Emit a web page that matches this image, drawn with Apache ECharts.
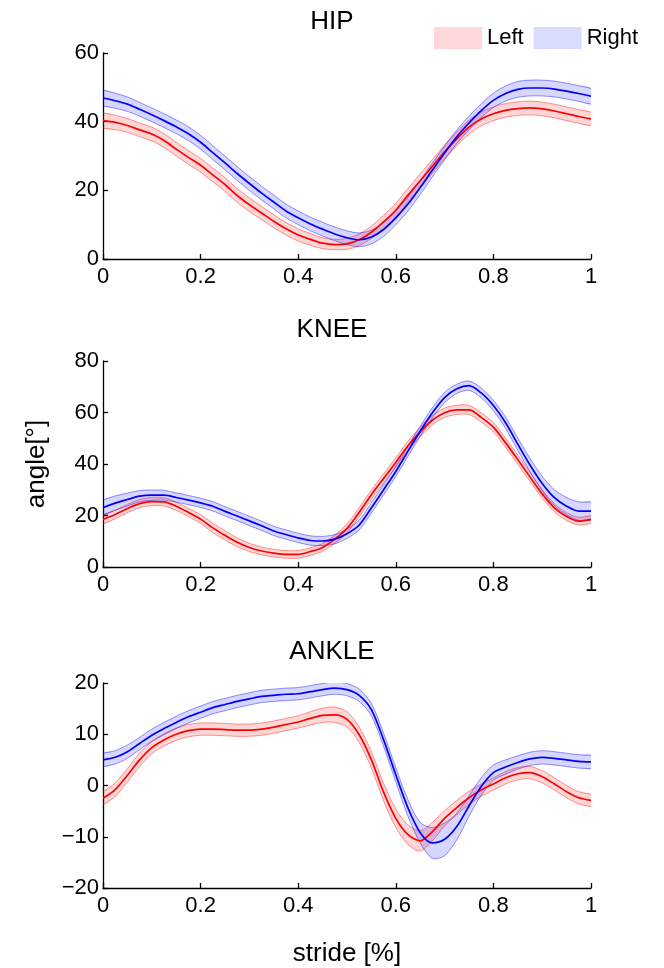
<!DOCTYPE html>
<html>
<head>
<meta charset="utf-8">
<script src="https://cdn.jsdelivr.net/npm/echarts@6.0.0/dist/echarts.min.js"></script>
<style>
  html, body { margin: 0; padding: 0; background: #fff; }
  #main { width: 664px; height: 968px; }
</style>
</head>
<body>
<div id="main"></div>
<script>
// stride fraction, step 0.025
var stride = [0, 0.025, 0.05, 0.075, 0.1, 0.125, 0.15, 0.175, 0.2, 0.225,
  0.25, 0.275, 0.3, 0.325, 0.35, 0.375, 0.4, 0.425, 0.45, 0.475,
  0.5, 0.525, 0.55, 0.575, 0.6, 0.625, 0.65, 0.675, 0.7, 0.725,
  0.75, 0.775, 0.8, 0.825, 0.85, 0.875, 0.9, 0.925, 0.95, 0.975, 1];

var hipLeft = [40.3, 39.8, 38.9, 37.6, 36.4, 34.5, 32.0, 29.6, 27.3, 24.5,
  21.7, 18.5, 15.8, 13.4, 11.0, 8.8, 7.0, 5.7, 4.6, 4.2,
  4.4, 5.6, 7.8, 10.8, 14.2, 18.6, 22.8, 27.0, 31.2, 35.0,
  38.4, 40.8, 42.3, 43.3, 43.8, 44.0, 43.7, 43.1, 42.3, 41.5, 40.8];
var hipLeftSd = [2.2, 2.1, 2.0, 2.0, 2.0, 2.0, 2.0, 2.0, 2.0, 2.0,
  2.0, 2.0, 2.0, 1.9, 1.9, 1.8, 1.8, 1.7, 1.6, 1.5,
  1.6, 1.7, 1.8, 1.9, 2.0, 2.0, 2.0, 2.0, 2.0, 2.0,
  2.0, 2.0, 2.0, 2.0, 2.0, 2.0, 2.0, 2.0, 2.0, 2.0, 2.0];
var hipRight = [46.9, 46.1, 45.1, 43.6, 42.0, 40.3, 38.5, 36.5, 34.0, 31.0,
  28.0, 24.9, 22.0, 19.2, 16.6, 14.0, 12.0, 10.2, 8.7, 7.3,
  6.2, 5.6, 6.4, 8.6, 12.0, 16.0, 20.8, 25.9, 30.9, 35.6,
  39.6, 43.2, 46.2, 48.2, 49.4, 49.8, 49.8, 49.5, 48.9, 48.2, 47.4];
var hipRightSd = [2.3, 2.2, 2.1, 2.0, 2.0, 2.0, 2.0, 2.0, 2.0, 2.0,
  2.0, 2.0, 2.0, 2.0, 2.0, 2.0, 2.0, 2.0, 2.0, 2.0,
  2.0, 2.0, 2.0, 2.0, 2.0, 2.0, 2.0, 2.0, 2.0, 2.0,
  2.0, 2.0, 2.1, 2.2, 2.3, 2.3, 2.3, 2.3, 2.3, 2.3, 2.3];

var kneeLeft = [18.5, 20.4, 22.7, 24.6, 25.4, 25.3, 23.6, 21.2, 18.6, 15.2,
  12.3, 9.6, 7.6, 6.2, 5.4, 4.9, 4.9, 6.0, 7.6, 10.8,
  15.0, 21.3, 28.1, 34.4, 40.6, 47.1, 52.5, 57.0, 59.9, 61.0,
  61.0, 58.1, 54.3, 48.2, 41.7, 35.0, 28.4, 23.0, 19.6, 17.8, 18.5];
var kneeLeftSd = [1.8, 1.7, 1.6, 1.6, 1.6, 1.6, 1.6, 1.6, 1.7, 1.8,
  1.8, 1.7, 1.6, 1.5, 1.5, 1.5, 1.5, 1.5, 1.5, 1.6,
  1.7, 1.8, 1.8, 1.8, 1.8, 1.8, 1.8, 1.8, 1.8, 1.8,
  1.8, 1.8, 1.8, 1.8, 1.8, 1.8, 1.7, 1.6, 1.5, 1.5, 1.5];
var kneeRight = [23.0, 24.8, 26.2, 27.5, 27.9, 27.9, 27.0, 26.0, 24.9, 23.6,
  21.6, 19.8, 17.9, 16.0, 14.0, 12.6, 11.3, 10.3, 10.1, 10.8,
  12.9, 16.3, 23.0, 30.0, 37.1, 45.0, 52.7, 59.9, 65.8, 69.2,
  70.4, 67.6, 62.7, 56.0, 47.7, 39.6, 32.4, 26.9, 23.6, 21.7, 21.7];
var kneeRightSd = [3.0, 2.8, 2.5, 2.2, 2.0, 1.9, 1.8, 1.8, 1.8, 1.8,
  1.8, 1.8, 1.8, 1.8, 1.8, 1.8, 1.8, 1.8, 1.8, 1.8,
  1.8, 1.9, 2.0, 2.0, 2.0, 2.0, 2.0, 2.0, 2.0, 1.8,
  1.8, 1.9, 2.0, 2.2, 2.4, 2.6, 2.8, 3.1, 3.4, 3.6, 3.6];

var ankleLeft = [-2.5, -0.8, 2.0, 5.0, 7.4, 8.9, 10.0, 10.7, 11.0, 11.0,
  10.9, 10.8, 10.8, 11.0, 11.4, 11.9, 12.4, 13.1, 13.7, 13.8,
  12.9, 9.9, 5.0, -1.3, -6.4, -9.6, -10.8, -9.0, -6.4, -4.3,
  -2.4, -0.9, 0.3, 1.5, 2.3, 2.5, 1.7, 0.3, -1.2, -2.4, -2.9];
var ankleLeftSd = [1.3, 1.3, 1.3, 1.3, 1.2, 1.2, 1.2, 1.2, 1.2, 1.2,
  1.2, 1.2, 1.2, 1.2, 1.2, 1.2, 1.2, 1.3, 1.4, 1.5,
  1.5, 1.5, 1.6, 1.7, 1.8, 1.9, 2.0, 1.8, 1.5, 1.4,
  1.3, 1.2, 1.2, 1.2, 1.2, 1.2, 1.2, 1.2, 1.2, 1.2, 1.2];
var ankleRight = [5.0, 5.5, 6.6, 8.2, 9.8, 11.1, 12.3, 13.4, 14.3, 15.2,
  15.8, 16.4, 16.9, 17.4, 17.6, 17.8, 17.9, 18.3, 18.7, 19.0,
  18.7, 17.6, 14.8, 8.9, 2.1, -4.4, -9.2, -11.2, -10.5, -8.0,
  -4.0, -0.2, 2.5, 3.6, 4.5, 5.2, 5.5, 5.3, 5.0, 4.7, 4.6];
var ankleRightSd = [1.3, 1.3, 1.3, 1.2, 1.2, 1.2, 1.2, 1.2, 1.2, 1.2,
  1.2, 1.2, 1.2, 1.2, 1.2, 1.2, 1.2, 1.2, 1.2, 1.2,
  1.2, 1.2, 1.2, 1.3, 1.4, 1.6, 2.0, 3.0, 3.2, 2.6,
  2.0, 1.7, 1.5, 1.4, 1.3, 1.3, 1.3, 1.3, 1.3, 1.3, 1.3];

var panelTitles = ['HIP', 'KNEE', 'ANKLE'];
var yTicks = [[0, 20, 40, 60], [0, 20, 40, 60, 80], [-20, -10, 0, 10, 20]];
var xTicks = [0, 0.2, 0.4, 0.6, 0.8, 1];

var FONT = 'Liberation Sans, Arial, sans-serif';
var RED = '#ff0000', BLUE = '#0000ff';
var RED_EDGE = 'rgba(255,0,0,0.4)', BLUE_EDGE = 'rgba(0,0,255,0.42)';
var RED_FILL = 'rgba(255,0,0,0.16)', BLUE_FILL = 'rgba(0,0,255,0.16)';

var gridTops = [53, 361, 683];
var SMOOTH = 0.3;

function pairs(vals) {
  return stride.map(function (x, i) { return [x, vals[i]]; });
}

// shaded band (mean +/- sd) drawn as one polygon through the axis scales
function bandSeries(name, mean, sd, idx, edge, fill) {
  var rows = stride.map(function (x, i) { return [x, mean[i] - sd[i], mean[i] + sd[i]]; });
  return {
    name: name, type: 'custom', xAxisIndex: idx, yAxisIndex: idx,
    silent: true, clip: true,
    encode: { x: 0, y: [1, 2] },
    data: rows,
    renderItem: function (params, api) {
      if (params.dataIndex !== 0) return null;
      var up = rows.map(function (r) { return api.coord([r[0], r[2]]); });
      var lo = rows.map(function (r) { return api.coord([r[0], r[1]]); });
      return {
        type: 'group',
        children: [
          { type: 'polygon', shape: { points: up.concat(lo.slice().reverse()), smooth: SMOOTH },
            style: { fill: fill, stroke: null } },
          { type: 'polyline', shape: { points: up, smooth: SMOOTH },
            style: { fill: null, stroke: edge, lineWidth: 1 } },
          { type: 'polyline', shape: { points: lo, smooth: SMOOTH },
            style: { fill: null, stroke: edge, lineWidth: 1 } }
        ]
      };
    }
  };
}

function meanSeries(name, mean, idx, color) {
  return {
    name: name, type: 'line', xAxisIndex: idx, yAxisIndex: idx,
    symbol: 'none', smooth: SMOOTH, silent: true,
    data: pairs(mean),
    lineStyle: { color: color, width: 1.7 }
  };
}

var panels = [
  [hipLeft, hipLeftSd, hipRight, hipRightSd],
  [kneeLeft, kneeLeftSd, kneeRight, kneeRightSd],
  [ankleLeft, ankleLeftSd, ankleRight, ankleRightSd]
];

var series = [];
panels.forEach(function (p, i) {
  series.push(bandSeries('Left', p[0], p[1], i, RED_EDGE, RED_FILL));
  series.push(meanSeries('Left', p[0], i, RED));
  series.push(bandSeries('Right', p[2], p[3], i, BLUE_EDGE, BLUE_FILL));
  series.push(meanSeries('Right', p[2], i, BLUE));
});

var axisLineStyle = { show: true, onZero: false, lineStyle: { color: '#000', width: 1.3 } };
var tickStyle = { show: true, inside: true, length: 5, lineStyle: { color: '#000', width: 1.3 } };

var option = {
  animation: false,
  backgroundColor: '#fff',
  textStyle: { fontFamily: FONT },
  title: panelTitles.map(function (t, i) {
    return {
      text: t, left: 'center', top: gridTops[i] - 49,
      textStyle: { fontSize: 26, fontWeight: 'normal', color: '#000', fontFamily: FONT }
    };
  }),
  legend: {
    right: 21, top: 22, itemWidth: 48, itemHeight: 22, itemGap: 10,
    selectedMode: false,
    textStyle: { fontSize: 22, color: '#000', fontFamily: FONT },
    data: [
      { name: 'Left', icon: 'rect', itemStyle: { color: '#ffd9d9' } },
      { name: 'Right', icon: 'rect', itemStyle: { color: '#d9dcff' } }
    ]
  },
  grid: gridTops.map(function (t) {
    return { left: 103, right: 73, top: t, height: 206 };
  }),
  xAxis: gridTops.map(function (t, i) {
    return {
      type: 'value', gridIndex: i,
      min: xTicks[0], max: xTicks[xTicks.length - 1], interval: 0.2,
      axisLine: axisLineStyle, axisTick: tickStyle,
      splitLine: { show: false },
      axisLabel: { fontSize: 22, color: '#000', margin: 7, fontFamily: FONT },
      name: i === 2 ? 'stride [%]' : '',
      nameLocation: 'middle', nameGap: 53,
      nameTextStyle: { fontSize: 26, color: '#000', fontFamily: FONT }
    };
  }),
  yAxis: yTicks.map(function (ticks, i) {
    return {
      type: 'value', gridIndex: i,
      min: ticks[0], max: ticks[ticks.length - 1], interval: ticks[1] - ticks[0],
      axisLine: axisLineStyle, axisTick: tickStyle,
      splitLine: { show: false },
      axisLabel: {
        fontSize: 22, color: '#000', margin: 4, fontFamily: FONT,
        formatter: function (v) { return String(v).replace('-', '\u2212'); }
      },
      name: i === 1 ? 'angle[\u00b0]' : '',
      nameLocation: 'middle', nameGap: 53, nameRotate: 90,
      nameTextStyle: { fontSize: 26, color: '#000', fontFamily: FONT }
    };
  }),
  series: series
};

var chart = echarts.init(document.getElementById('main'));
chart.setOption(option);
</script>
</body>
</html>
